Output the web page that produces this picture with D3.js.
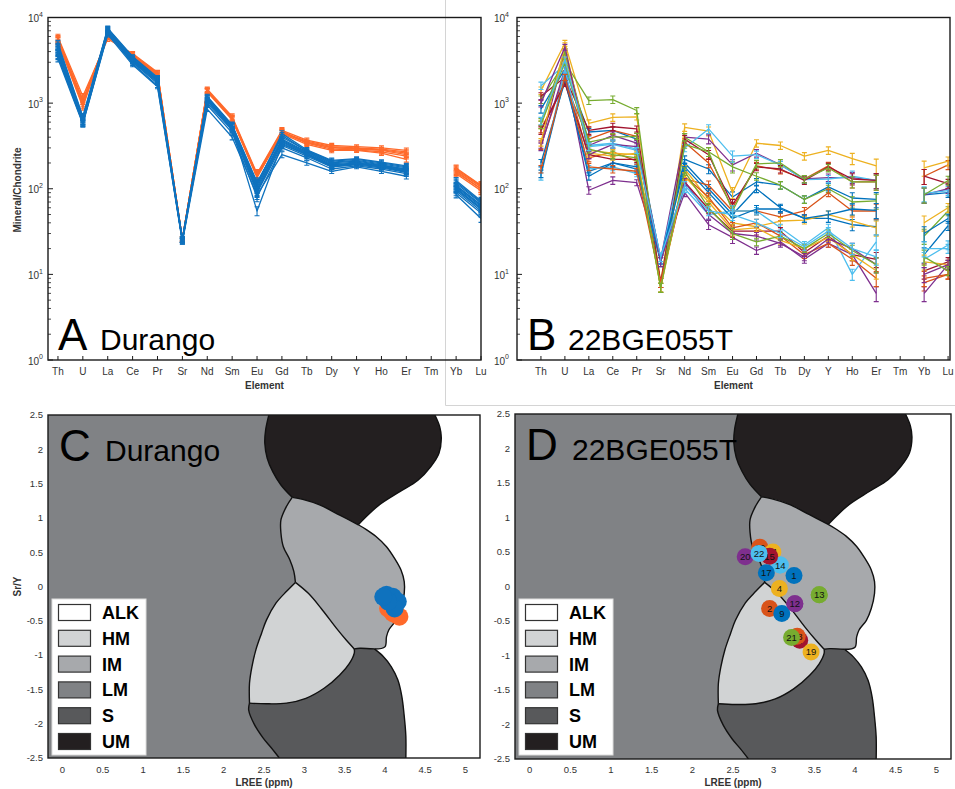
<!DOCTYPE html>
<html lang="en">
<head>
<meta charset="UTF-8">
<title>Durango vs 22BGE055T apatite</title>
<style>
  body { margin: 0; background: #fff; }
  svg { display: block; font-family: "Liberation Sans", Arial, sans-serif; }
  .tick-label { font-size: 10px; fill: #333; }
  .axis-title { font-size: 10px; font-weight: bold; fill: #333; }
  .letter { font-size: 44px; fill: #000; }
  .name { font-size: 30px; fill: #000; }
  .legend-text { font-size: 18px; font-weight: bold; fill: #000; }
  .pt-label { font-size: 9.5px; fill: #111; }
</style>
</head>
<body>
<div id="chart"></div>
<script src="https://cdn.jsdelivr.net/npm/d3@7"></script>
<script>
const elements = ["Th","U","La","Ce","Pr","Sr","Nd","Sm","Eu","Gd","Tb","Dy","Y","Ho","Er","Tm","Yb","Lu"];

// Durango, two populations (chondrite normalised), Tm not measured
const durangoOrange = [
  [5900,1200,5600,3800,2300,26,1450,700,150,480,370,320,310,300,280,null,175,110],
  [5600,1050,6000,3600,2200,26,1400,680,145,460,360,310,300,290,270,null,165,105],
  [5400,950,6200,3500,2150,25,1380,650,140,450,350,300,295,285,260,null,160,100],
  [5700,1100,5900,3700,2250,26,1420,670,145,470,340,290,285,270,240,null,155,100],
  [5200,900,6400,3400,2100,25,1350,640,135,440,330,280,280,260,220,null,150,95],
  [5500,1000,6100,3550,2200,26,1400,660,140,455,345,305,290,280,250,null,170,108]
];
const durangoBlue = [
  [5000,700,7500,3500,2000,26,1200,560,120,400,280,210,220,200,180,null,120,70],
  [4600,650,7200,3300,1900,25,1150,540,110,380,270,200,210,190,170,null,110,65],
  [4200,620,7000,3200,1850,25,1100,520,100,360,260,190,200,185,165,null,105,62],
  [3800,600,6800,3100,1800,25,1080,500,95,340,250,185,195,180,160,null,100,60],
  [3500,580,6500,3000,1700,24,1000,480,90,320,240,180,190,175,155,null,95,55],
  [4800,680,7400,3450,1950,26,1180,550,115,420,275,205,215,195,175,null,115,68],
  [4400,640,7100,3250,1880,25,1120,530,105,370,265,195,205,188,168,null,108,64],
  [3600,590,6600,2900,1600,25,950,450,80,300,230,170,185,170,150,null,90,52],
  [4000,610,6900,3150,1820,25,1090,500,55,330,250,180,195,180,158,null,98,58],
  [3300,570,6300,2800,1550,24,850,400,85,250,200,160,180,160,140,null,85,45],
  [4500,660,7300,3350,1920,26,1160,545,112,440,285,215,225,205,185,null,125,72],
  [3900,620,6700,3050,1750,25,1050,490,92,350,255,188,198,182,162,null,102,58]
];
const durangoErr = [0.08,0.08,0.06,0.05,0.05,0.06,0.06,0.07,0.12,0.08,0.06,0.06,0.05,0.06,0.07,0,0.08,0.1];

// 22BGE055T spots
const sampleIds = [1,2,4,5,6,7,8,9,10,11,12,13,14,15,17,18,19,20,21,22];
const sampleREE = [
  [850,2500,460,480,380,15,220,170,80,120,110,75,105,78,75,null,85,90],
  [500,1700,380,480,410,7,350,200,60,185,165,130,185,120,120,null,140,190],
  [1400,5000,580,680,690,8,520,470,90,340,320,240,280,225,185,null,175,210],
  [330,4000,320,420,340,15,400,380,190,260,190,130,135,135,125,null,85,100],
  [1100,3000,1070,1100,820,7,400,270,180,140,110,75,100,70,72,null,28,55],
  [1600,2800,320,340,290,15,300,500,240,250,190,128,130,140,125,null,88,95],
  [1200,2000,480,530,500,8,380,250,65,180,170,125,180,130,125,null,140,115],
  [200,1800,160,200,180,15,200,100,50,100,60,45,45,38,36,null,17,37],
  [320,2200,230,270,210,8,130,110,55,55,47,55,90,55,55,null,8,10],
  [560,3500,280,260,250,7,170,75,40,36,42,43,50,42,35,null,40,60],
  [310,2500,96,125,118,15,90,38,27,19,24,15,23,17,6,null,6,13],
  [600,4000,350,400,410,7,330,270,55,195,200,130,175,120,120,null,85,125],
  [140,2500,170,180,150,15,100,50,55,55,35,22,35,10,24,null,15,22],
  [480,1700,250,220,220,8,120,58,32,32,32,18,28,17,15,null,11,14],
  [150,2000,140,200,170,14,180,90,45,58,58,45,50,58,56,null,30,45],
  [170,2000,180,170,160,8,140,80,35,40,28,17,23,15,9,null,9,10],
  [350,4700,260,240,260,7,140,70,33,35,25,20,27,17,11,null,14,13],
  [1000,4500,250,330,310,14,120,50,30,28,23,16,26,20,13,null,10,13],
  [560,3000,290,250,230,7,160,60,30,24,28,20,30,19,13,null,16,11],
  [620,3200,310,330,280,16,110,55,50,40,30,21,32,20,16,null,20,20]
];
const sampleErr = [0.1,0.08,0.1,0.1,0.08,0.12,0.1,0.12,0.15,0.1,0.1,0.1,0.1,0.15,0.2,0,0.2,0.12];
const sampleLREE = [3.25,2.95,3.07,3.26,3.56,3.08,3.32,3.10,2.83,2.99,3.26,3.56,3.08,2.95,2.91,3.29,3.46,2.65,3.22,2.82];
const sampleSrY  = [0.16,-0.32,-0.03,-0.25,-0.12,0.31,-0.78,-0.39,0.57,0.50,-0.25,-0.12,0.31,0.44,0.20,-0.72,-0.95,0.43,-0.74,0.48];

const durangoLREEblue = [4.02,4.10,4.16,4.12,4.04,3.98];
const durangoSrYblue  = [-0.12,-0.15,-0.22,-0.32,-0.22,-0.15];
const durangoLREEorange = [4.04,4.10,4.18,4.14];
const durangoSrYorange  = [-0.32,-0.39,-0.44,-0.41];

const matlabColors = ["#0072bd","#d95319","#edb120","#7e2f8e","#77ac30","#4dbeee","#a2142f"];
const durangoColors = { orange: "#ff6a2b", blue: "#0f72be" };

// discrimination fields (LREE, Sr/Y)
const fieldNames = ["ALK","HM","IM","LM","S","UM"];
const fieldColors = ["#ffffff","#d1d3d4","#a7a9ac","#808285","#58595b","#231f20"];
const edgeUmLm = [[2.56,2.5],[2.52,2.28],[2.51,2.09],[2.54,1.87],[2.61,1.67],[2.71,1.48],[2.85,1.30]];
const edgeUmIm = [[2.85,1.30],[2.98,1.27],[3.19,1.19],[3.44,1.04],[3.67,0.90]];
const edgeUmAlk = [[3.67,0.90],[3.77,1.02],[3.93,1.19],[4.18,1.38],[4.41,1.55],[4.57,1.75],[4.67,1.94],[4.70,2.16],[4.68,2.33],[4.62,2.5]];
const edgeImLm = [[2.85,1.30],[2.78,1.17],[2.71,0.97],[2.71,0.78],[2.74,0.58],[2.82,0.39],[2.87,0.22],[2.89,0.06]];
const edgeImHm = [[2.89,0.06],[3.05,-0.10],[3.21,-0.32],[3.40,-0.61],[3.52,-0.78],[3.62,-0.91]];
const edgeImS = [[3.62,-0.91],[3.69,-0.90],[3.87,-0.91]];
const edgeImAlk = [[3.87,-0.91],[4.00,-0.88],[4.02,-0.73],[4.05,-0.63],[4.14,-0.49],[4.20,-0.32],[4.24,-0.10],[4.24,0.07],[4.20,0.24],[4.12,0.41],[4.02,0.58],[3.89,0.73],[3.77,0.83],[3.67,0.90]];
const edgeHmLm = [[2.89,0.06],[2.78,-0.07],[2.65,-0.24],[2.53,-0.49],[2.47,-0.68],[2.40,-0.92],[2.35,-1.17],[2.32,-1.41],[2.32,-1.70]];
const edgeHmS = [[2.32,-1.70],[2.53,-1.71],[2.78,-1.70],[3.02,-1.63],[3.25,-1.48],[3.44,-1.29],[3.56,-1.12],[3.62,-0.97],[3.62,-0.91]];
const edgeSAlk = [[3.87,-0.91],[3.98,-1.02],[4.08,-1.17],[4.16,-1.36],[4.21,-1.60],[4.24,-1.89],[4.26,-2.18],[4.26,-2.5]];
const edgeSLm = [[2.32,-1.70],[2.31,-1.80],[2.38,-2.01],[2.49,-2.21],[2.59,-2.35],[2.69,-2.5]];

const W = 955, H = 789;
const svg = d3.select("#chart").append("svg").attr("width", W).attr("height", H);
const defs = svg.append("defs");
let clipCount = 0;
function clipRect(x, y, w, h) {
  const id = "clip" + (clipCount++);
  defs.append("clipPath").attr("id", id).append("rect").attr("x", x).attr("y", y).attr("width", w).attr("height", h);
  return "url(#" + id + ")";
}

// grey frame of the upper-right figure
svg.append("path").attr("d", "M445.5,0 V405.5 H955").attr("fill", "none").attr("stroke", "#d4d4d4");

function spiderPanel(opt) {
  const g = svg.append("g");
  const top = 17.5, bottom = 360;
  const x = d3.scaleLinear().domain(opt.xDomain).range([opt.left, opt.right]);
  const y = d3.scaleLog().domain([1, 1e4]).range([bottom, top]);
  const line = d3.line().defined(d => d.v != null).x(d => x(d.i)).y(d => y(d.v));

  const plot = g.append("g").attr("clip-path", clipRect(opt.left, top, opt.right - opt.left, bottom - top));
  opt.series.forEach(s => {
    const pts = s.values.map((v, i) => ({ i: i + 1, v: v }));
    plot.append("path").attr("d", line(pts)).attr("fill", "none")
      .attr("stroke", s.color).attr("stroke-width", 1.3).attr("stroke-linejoin", "round");
    pts.filter(d => d.v != null).forEach(d => {
      const e = opt.err[d.i - 1];
      const y1 = y(d.v * (1 + e)), y2 = y(d.v * (1 - e)), cx = x(d.i);
      plot.append("path")
        .attr("d", `M${cx},${y1}V${y2}M${cx - 2.5},${y1}H${cx + 2.5}M${cx - 2.5},${y2}H${cx + 2.5}`)
        .attr("stroke", s.color).attr("stroke-width", 1.1).attr("fill", "none");
    });
  });

  // frame and ticks
  g.append("rect").attr("x", opt.left).attr("y", top).attr("width", opt.right - opt.left).attr("height", bottom - top)
    .attr("fill", "none").attr("stroke", "#1a1a1a").attr("stroke-width", 1.4);
  elements.forEach((el, i) => {
    g.append("line").attr("x1", x(i + 1)).attr("x2", x(i + 1)).attr("y1", bottom).attr("y2", bottom - 4)
      .attr("stroke", "#1a1a1a");
    g.append("text").attr("class", "tick-label").attr("x", x(i + 1)).attr("y", 375)
      .attr("text-anchor", "middle").text(el);
  });
  for (let k = 0; k <= 4; k++) {
    const t = g.append("text").attr("class", "tick-label").attr("x", opt.left - opt.labelGap)
      .attr("y", y(Math.pow(10, k))).attr("dy", "0.45em").attr("text-anchor", "end");
    t.append("tspan").text("10");
    t.append("tspan").attr("dy", "-0.75em").attr("font-size", "7px").text(k);
    g.append("line").attr("x1", opt.left).attr("x2", opt.left + 5).attr("y1", y(Math.pow(10, k))).attr("y2", y(Math.pow(10, k)))
      .attr("stroke", "#1a1a1a");
    if (k < 4) {
      for (let m = 2; m <= 9; m++) {
        const yy = y(m * Math.pow(10, k));
        g.append("line").attr("x1", opt.left).attr("x2", opt.left + 3).attr("y1", yy).attr("y2", yy)
          .attr("stroke", "#1a1a1a").attr("stroke-width", 0.8);
      }
    }
  }
  g.append("text").attr("class", "axis-title").attr("x", (opt.left + opt.right) / 2).attr("y", 389)
    .attr("text-anchor", "middle").text("Element");
  if (opt.yTitle) {
    g.append("text").attr("class", "axis-title").attr("transform", "translate(21,190) rotate(-90)")
      .attr("text-anchor", "middle").text(opt.yTitle);
  }
  g.append("text").attr("class", "letter").attr("x", opt.left + 10).attr("y", 350).text(opt.letter);
  g.append("text").attr("class", "name").attr("x", opt.left + opt.nameOffset).attr("y", 350).text(opt.name);
}

function fieldPanel(opt) {
  const g = svg.append("g");
  const x = d3.scaleLinear().domain([-0.18, 5.18]).range([opt.left, opt.right]);
  const y = d3.scaleLinear().domain([-2.5, 2.5]).range([opt.bottom, opt.top]);
  const gen = d3.line().x(d => x(d[0])).y(d => y(d[1])).curve(d3.curveCatmullRom.alpha(0.5));
  const rev = a => a.slice().reverse();
  const region = parts => parts.map((p, k) => k ? gen(p).replace(/^M/, "L") : gen(p)).join("") + "Z";

  const plot = g.append("g").attr("clip-path", clipRect(opt.left, opt.top, opt.right - opt.left, opt.bottom - opt.top));
  plot.append("rect").attr("x", opt.left).attr("y", opt.top).attr("width", opt.right - opt.left)
    .attr("height", opt.bottom - opt.top).attr("fill", fieldColors[3]);
  const regions = [
    [0, [rev(edgeUmAlk), rev(edgeImAlk), edgeSAlk, [[4.26,-2.5],[5.4,-2.5]], [[5.4,-2.5],[5.4,2.5]], [[5.4,2.5],[4.62,2.5]]]],
    [5, [edgeUmLm, edgeUmIm, edgeUmAlk, [[4.62,2.5],[2.56,2.5]]]],
    [2, [edgeUmIm, rev(edgeImAlk), rev(edgeImS), rev(edgeImHm), rev(edgeImLm)]],
    [1, [edgeImHm, rev(edgeHmS), rev(edgeHmLm)]],
    [4, [edgeHmS, edgeImS, edgeSAlk, [[4.26,-2.5],[2.69,-2.5]], rev(edgeSLm)]]
  ];
  regions.forEach(r => plot.append("path").attr("d", region(r[1])).attr("fill", fieldColors[r[0]]));
  [edgeUmLm, edgeUmIm, edgeUmAlk, edgeImLm, edgeImHm, edgeImS, edgeImAlk, edgeHmLm, edgeHmS, edgeSAlk, edgeSLm]
    .forEach(e => plot.append("path").attr("d", gen(e)).attr("fill", "none")
      .attr("stroke", "#111").attr("stroke-width", 1.4));

  // data points
  opt.points(plot, x, y);

  g.append("rect").attr("x", opt.left).attr("y", opt.top).attr("width", opt.right - opt.left)
    .attr("height", opt.bottom - opt.top).attr("fill", "none").attr("stroke", "#1a1a1a").attr("stroke-width", 1.4);

  d3.range(-2.5, 2.51, 0.5).forEach(v => {
    g.append("text").attr("class", "tick-label").attr("x", opt.left - 5).attr("y", y(v)).attr("dy", "0.35em")
      .attr("text-anchor", "end").style("font-size", "9.5px").text(d3.format("~g")(v).replace("−", "-"));
  });
  d3.range(0, 5.01, 0.5).forEach(v => {
    g.append("text").attr("class", "tick-label").attr("x", x(v)).attr("y", 773)
      .attr("text-anchor", "middle").style("font-size", "9.5px").text(d3.format("~g")(v));
  });
  g.append("text").attr("class", "axis-title").attr("x", x(2.5)).attr("y", 786)
    .attr("text-anchor", "middle").text("LREE (ppm)");
  if (opt.yTitle) {
    g.append("text").attr("class", "axis-title").attr("transform", `translate(21,${y(0)}) rotate(-90)`)
      .attr("text-anchor", "middle").text(opt.yTitle);
  }

  // legend
  const lg = g.append("g").attr("transform", `translate(${opt.left + 4},599)`);
  lg.append("rect").attr("width", 94).attr("height", 156).attr("fill", "#fff").attr("stroke", "#ddd");
  fieldNames.forEach((name, i) => {
    const cy = 13.5 + i * 25.8;
    lg.append("rect").attr("x", 6.5).attr("y", cy - 8).attr("width", 32).attr("height", 16)
      .attr("fill", fieldColors[i]).attr("stroke", "#333").attr("stroke-width", 1.2);
    lg.append("text").attr("class", "legend-text").attr("x", 50).attr("y", cy).attr("dy", "0.36em").text(name);
  });

  g.append("text").attr("class", "letter").attr("x", opt.left + 11).attr("y", opt.top + 46).text(opt.letter);
  g.append("text").attr("class", "name").attr("x", opt.left + opt.nameOffset).attr("y", opt.top + 46).text(opt.name);
}

// A
spiderPanel({
  left: 48, right: 481, xDomain: [0.6, 18.0], labelGap: 5, letter: "A", name: "Durango", nameOffset: 52,
  yTitle: "Mineral/Chondrite", err: durangoErr,
  series: durangoOrange.map(v => ({ values: v, color: durangoColors.orange }))
    .concat(durangoBlue.map(v => ({ values: v, color: durangoColors.blue })))
});

// B
spiderPanel({
  left: 517, right: 950, xDomain: [0, 18.08], labelGap: 8, letter: "B", name: "22BGE055T", nameOffset: 51,
  err: sampleErr,
  series: sampleREE.map((v, i) => ({ values: v, color: matlabColors[i % 7] }))
});

// C
fieldPanel({
  left: 48, right: 480, top: 415, bottom: 758, letter: "C", name: "Durango", nameOffset: 57, yTitle: "Sr/Y",
  points: (plot, x, y) => {
    durangoLREEorange.forEach((v, i) => plot.append("circle").attr("cx", x(v)).attr("cy", y(durangoSrYorange[i]))
      .attr("r", 9).attr("fill", durangoColors.orange));
    durangoLREEblue.forEach((v, i) => plot.append("circle").attr("cx", x(v)).attr("cy", y(durangoSrYblue[i]))
      .attr("r", 9).attr("fill", durangoColors.blue));
  }
});

// D
fieldPanel({
  left: 515, right: 951, top: 414, bottom: 759, letter: "D", name: "22BGE055T", nameOffset: 57,
  points: (plot, x, y) => {
    sampleIds.forEach((id, i) => {
      const cx = x(sampleLREE[i]), cy = y(sampleSrY[i]);
      plot.append("circle").attr("cx", cx).attr("cy", cy).attr("r", 8.5).attr("fill", matlabColors[i % 7]);
      plot.append("text").attr("class", "pt-label").attr("x", cx).attr("y", cy).attr("dy", "0.36em")
        .attr("text-anchor", "middle").text(id);
    });
  }
});
</script>
</body>
</html>
